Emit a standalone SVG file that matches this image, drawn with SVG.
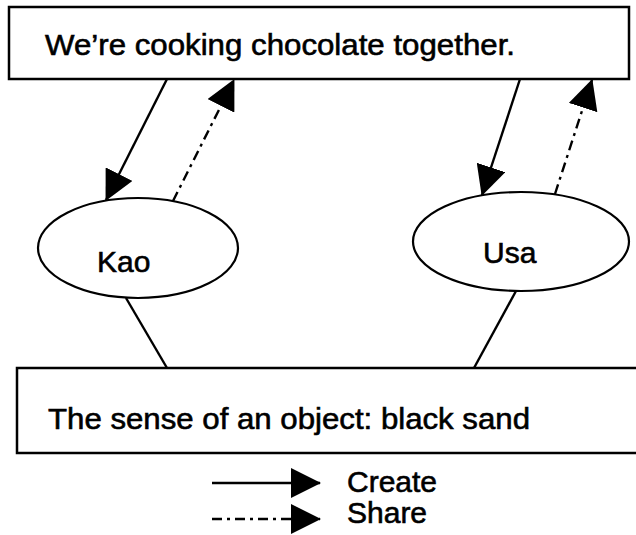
<svg xmlns="http://www.w3.org/2000/svg" width="636" height="535" viewBox="0 0 636 535">
<style>
.box{fill:#fff;stroke:#000;stroke-width:2.5}
.ell{fill:#fff;stroke:#000;stroke-width:2.2}
.ln{stroke:#000;stroke-width:2.4;fill:none}
.dash{stroke-dasharray:10 5 3 5}
text{font-family:"Liberation Sans",Arial,sans-serif;font-size:30px;fill:#000;stroke:#000;stroke-width:0.6}
</style>
<defs>
<marker id="ah" viewBox="0 0 30 30" refX="29" refY="15" markerWidth="30" markerHeight="30" markerUnits="userSpaceOnUse" orient="auto">
<path d="M0,0 L30,15 L0,30 z" fill="#000"/>
</marker>
</defs>
<rect width="636" height="535" fill="#fff"/>
<g id="top">
<rect class="box" x="9" y="7" width="620" height="72"/>
<text x="45" y="55" textLength="470" lengthAdjust="spacingAndGlyphs">We’re cooking chocolate together.</text>
</g>
<g id="bottom">
<rect class="box" x="17" y="368" width="640" height="85"/>
<text x="48" y="429" textLength="482" lengthAdjust="spacingAndGlyphs">The sense of an object: black sand</text>
</g>
<g id="kao">
<ellipse class="ell" cx="138" cy="248" rx="100" ry="50"/>
<text x="97" y="272">Kao</text>
</g>
<g id="usa">
<ellipse class="ell" cx="521" cy="241.5" rx="108" ry="49.5"/>
<text x="483" y="263">Usa</text>
</g>
<g id="connectors">
<line class="ln" x1="167" y1="79" x2="106" y2="200" marker-end="url(#ah)"/>
<line class="ln dash" x1="173" y1="201" x2="234" y2="80" marker-end="url(#ah)"/>
<line class="ln" x1="520" y1="79" x2="482" y2="195" marker-end="url(#ah)"/>
<line class="ln dash" x1="555" y1="194" x2="592" y2="80" marker-end="url(#ah)"/>
<line class="ln" x1="126" y1="298" x2="167" y2="368"/>
<line class="ln" x1="516" y1="291" x2="474" y2="368"/>
</g>
<g id="legend">
<line class="ln" x1="212" y1="483" x2="320" y2="483" marker-end="url(#ah)"/>
<line class="ln dash" x1="212" y1="519" x2="320" y2="519" marker-end="url(#ah)"/>
<text x="347" y="492">Create</text>
<text x="347" y="523">Share</text>
</g>
</svg>
